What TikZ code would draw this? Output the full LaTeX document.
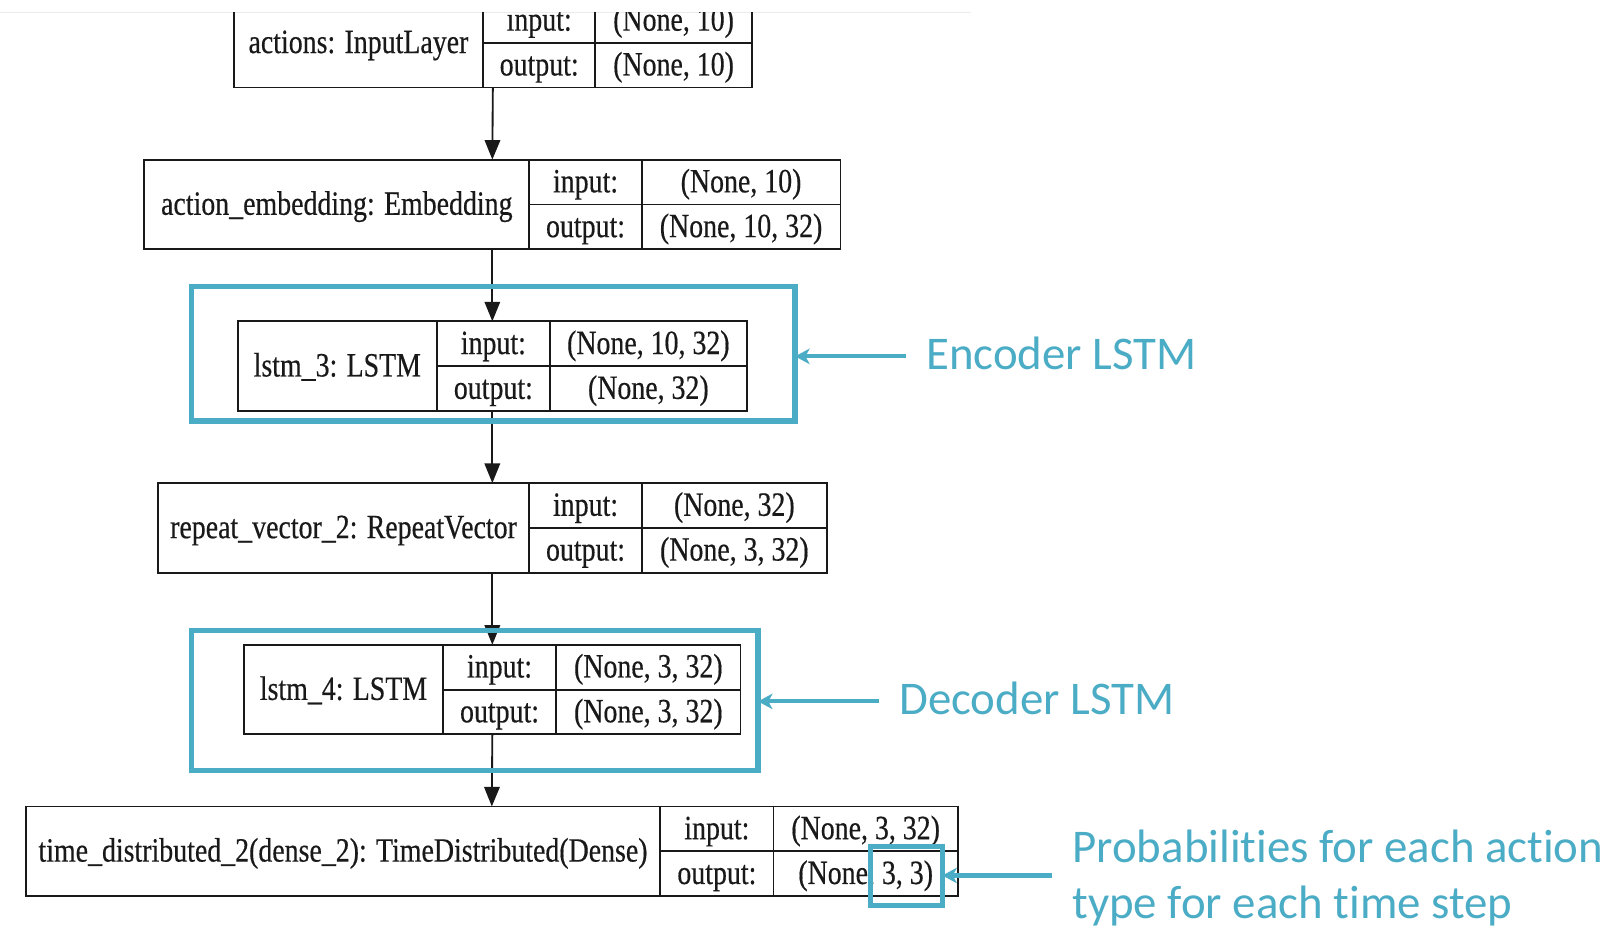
\documentclass[tikz,border=0pt]{standalone}
\usepackage{fontspec}
\newfontfamily\layerfont{Liberation Serif}[FakeStretch=0.82, FakeBold=0.4]
\newfontfamily\notefont{Carlito}[Ligatures={NoCommon}]
\usetikzlibrary{arrows.meta}
\definecolor{hlblue}{RGB}{75,172,198}
\definecolor{ink}{RGB}{25,25,25}

\tikzset{
  cell/.style={draw=ink, line width=1.8pt, inner sep=0pt, outer sep=0pt,
    anchor=north west, text=ink, font=\layerfont\fontsize{33}{40}\selectfont,
    text height=25pt, text depth=5pt},
  flow/.style={draw=ink, line width=1.8pt, -{Triangle[length=19pt,width=15pt]}},
  hlbox/.style={draw=hlblue, line width=5.5pt, inner sep=0pt, outer sep=0pt, anchor=north west},
  callout/.style={draw=hlblue, line width=4pt, -{Stealth[length=14pt,width=15pt,inset=4pt]}},
  note/.style={text=hlblue, font=\notefont\fontsize{45.5}{55}\selectfont, inner sep=0pt, anchor=base west},
}

% one Keras layer: id, top, x0, x1, x2, x3, name, input shape, output shape
\newcommand\kerasLayer[9]{%
  \node[cell, minimum width={#6-#3}, minimum height=87] (#1) at (#3,#2) {};
  \node[cell, minimum width={#4-#3}, minimum height=87] (#1-name) at (#3,#2) {#7};
  \node[cell, minimum width={#5-#4}, minimum height=43.5] (#1-inl) at (#4,#2) {input:};
  \node[cell, minimum width={#6-#5}, minimum height=43.5] (#1-inv) at (#5,#2) {#8};
  \node[cell, minimum width={#5-#4}, minimum height=43.5] (#1-outl) at (#4,#2+43.5) {output:};
  \node[cell, minimum width={#6-#5}, minimum height=43.5] (#1-outv) at (#5,#2+43.5) {#9};
}

\begin{document}
\begin{tikzpicture}[x=1pt, y=-1pt]
  \useasboundingbox (0,0) rectangle (1568,900);
  \fill[white] (0,0) rectangle (1568,900);

  % page edge above the model plot
  \draw[draw=black!8, line width=1pt] (0,12) -- (943,12);

  \begin{scope}
    \clip (0,12) rectangle (1568,900);
    \kerasLayer{inp}{-2}{227}{469}{578}{730}{actions: InputLayer}{(None, 10)}{(None, 10)}
  \end{scope}
  \kerasLayer{emb}{155}{140}{514}{623}{816}{action\_embedding: Embedding}{(None, 10)}{(None, 10, 32)}
  \kerasLayer{enc}{312}{231}{424}{534}{725}{lstm\_3: LSTM}{(None, 10, 32)}{(None, 32)}
  \kerasLayer{rep}{469}{153}{514}{623}{803}{repeat\_vector\_2: RepeatVector}{(None, 32)}{(None, 3, 32)}
  \kerasLayer{dec}{626}{237}{430}{540}{719}{lstm\_4: LSTM}{(None, 3, 32)}{(None, 3, 32)}
  \kerasLayer{td}{783}{25}{641}{751}{930}{time\_distributed\_2(dense\_2): TimeDistributed(Dense)}{(None, 3, 32)}{(None, 3, 3)}

  \draw[flow] (inp.south) -- (emb.north);
  \draw[flow] (emb.south) -- (enc.north);
  \draw[flow] (enc.south) -- (rep.north);
  \draw[flow] (rep.south) -- (dec.north);
  \draw[flow] (dec.south) -- (td.north);

  % highlights
  \node[hlbox, minimum width=586, minimum height=131] (encHL) at (186,278) {};
  \node[hlbox, minimum width=550, minimum height=136] (decHL) at (186,612) {};
  \node[hlbox, minimum width=70, minimum height=57] (outHL) at (845,822) {};

  % annotations
  \node[note] (encNote) at (899,359) {Encoder LSTM};
  \node[note] (decNote) at (873,694) {Decoder LSTM};
  \node[note] (probNoteA) at (1041,837) {Probabilities for each action};
  \node[note] (probNoteB) at (1041,892) {type for each time step};

  \coordinate (encTail) at (880,346);
  \coordinate (decTail) at (853,681);
  \coordinate (probTail) at (1021,850);
  \draw[callout] (encTail) -- (encTail -| encHL.east);
  \draw[callout] (decTail) -- (decTail -| decHL.east);
  \draw[callout] (probTail) -- (probTail -| outHL.east);
\end{tikzpicture}
\end{document}
